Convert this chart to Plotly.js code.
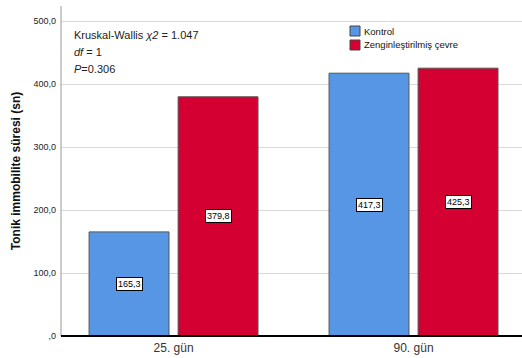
<!DOCTYPE html>
<html>
<head>
<meta charset="utf-8">
<script src="https://cdn.plot.ly/plotly-3.0.1.min.js"></script>
<style>html,body{margin:0;padding:0;background:#fff;overflow:hidden}</style>
</head>
<body>
<div id="chart" style="width:522px;height:358px"></div>
<script>
const categories = ["25. gün", "90. gün"];
const seriesNames = ["Kontrol", "Zenginleştirilmiş çevre"];
const kontrol = [165.3, 417.3];
const zengin = [379.8, 425.3];
const yTickVals = [0, 100, 200, 300, 400, 500];
const yTickText = [",0", "100,0", "200,0", "300,0", "400,0", "500,0"];
const statsLines = ["Kruskal-Wallis <i>χ2</i> = 1.047", "<i>df</i> = 1", "<i>P</i>=0.306"];
const colors = ["#5796E4", "#D50032"];

const fmt = v => v.toFixed(1).replace(".", ",");

const barWidth = 0.333;
const offsets = [-0.352, 0.019];

const traces = [kontrol, zengin].map((vals, i) => ({
  type: "bar",
  name: seriesNames[i],
  x: categories,
  y: vals,
  width: barWidth,
  offset: offsets[i],
  marker: {color: colors[i], line: {color: "#555", width: 1}},
  showlegend: false,
  hoverinfo: "skip"
}));

const annotations = [];
[kontrol, zengin].forEach((vals, i) => {
  vals.forEach((v, j) => {
    annotations.push({
      x: j + offsets[i] + barWidth / 2, y: v / 2, xref: "x", yref: "y",
      text: fmt(v), showarrow: false,
      font: {family: "Liberation Sans, Arial", size: 9, color: "#000"},
      bgcolor: "#fff", bordercolor: "#000", borderwidth: 1, borderpad: 1
    });
  });
});

const L = 61, T = 6, W = 522, H = 358, B = 22;
const pw = W - L, ph = H - T - B;
const px = x => (x - L) / pw;
const py = y => (H - B - y) / ph;

statsLines.forEach((t, k) => {
  annotations.push({
    x: px(72), y: py(35 + k * 17), xref: "paper", yref: "paper",
    text: t, showarrow: false, xanchor: "left", yanchor: "middle",
    font: {family: "Liberation Sans, Arial", size: 11, color: "#222"}
  });
});
seriesNames.forEach((n, k) => {
  annotations.push({
    x: px(362), y: py(31 + k * 14), xref: "paper", yref: "paper", text: n, showarrow: false,
    xanchor: "left", yanchor: "middle",
    font: {family: "Liberation Sans, Arial", size: 9.5, color: "#111"}
  });
});

const shapes = seriesNames.map((n, k) => ({
  type: "rect", xref: "paper", yref: "paper",
  x0: px(350), x1: px(360), y0: py(26 + k * 14), y1: py(36 + k * 14),
  fillcolor: colors[k], line: {color: "#444", width: 1}
}));
shapes.push({type: "line", xref: "paper", yref: "paper", x0: 0, x1: 0, y0: 0, y1: 1,
  line: {color: "#9a9a9a", width: 1}});
shapes.push({type: "line", xref: "paper", yref: "paper", x0: 0, x1: 1, y0: 0, y1: 0,
  line: {color: "#000", width: 2}});

const layout = {
  width: W, height: H,
  margin: {l: L, r: 0, t: T, b: B, pad: 0},
  paper_bgcolor: "#fff", plot_bgcolor: "#fff",
  barmode: "overlay",
  xaxis: {
    range: [-0.469, 1.452], showgrid: false, zeroline: false, showline: false,
    ticks: "", ticklabelstandoff: 3, automargin: false,
    tickfont: {family: "Liberation Sans, Arial", size: 12, color: "#333"},
    fixedrange: true
  },
  yaxis: {
    range: [0, 524], tickvals: yTickVals, ticktext: yTickText,
    showgrid: true, gridcolor: "#d9d9d9", gridwidth: 1, zeroline: false, showline: false,
    ticks: "", ticklabelstandoff: 4,
    tickfont: {family: "Liberation Sans, Arial", size: 9, color: "#222"},
    title: {text: "<b>Tonik immobilite süresi (sn)</b>", standoff: 10,
      font: {family: "Liberation Sans, Arial", size: 12, color: "#111"}},
    fixedrange: true
  },
  annotations: annotations,
  shapes: shapes,
  showlegend: false
};

Plotly.newPlot("chart", traces, layout, {displayModeBar: false, staticPlot: true});
</script>
</body>
</html>
